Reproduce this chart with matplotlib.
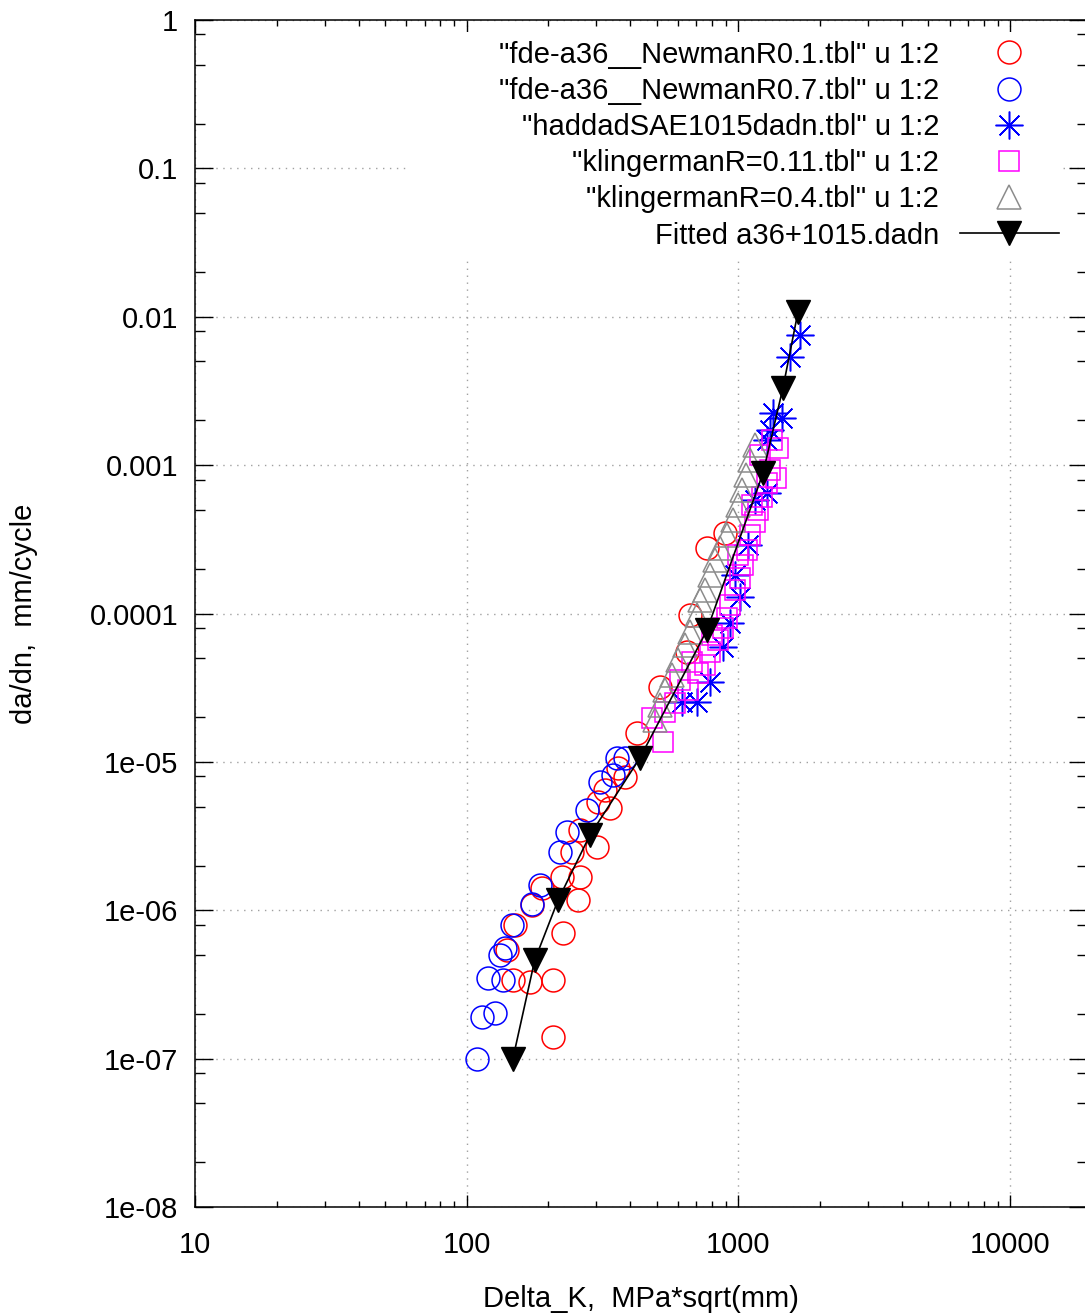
import matplotlib
matplotlib.use("Agg")
import matplotlib.pyplot as plt
from matplotlib.patches import Rectangle
from matplotlib.ticker import FixedLocator, FixedFormatter, LogLocator, NullFormatter

plt.rcParams['font.family'] = ['Liberation Sans', 'DejaVu Sans']

# Data (Delta_K in MPa*sqrt(mm), da/dn in mm/cycle)
newman_r01_dk = [208, 148, 171, 208, 141, 151, 226, 174, 257, 189, 224, 261, 244,
                 302, 261, 304, 337, 323, 361, 383, 424, 514, 647, 663, 766, 893]
newman_r01_dadn = [1.39e-7, 3.37e-7, 3.27e-7, 3.37e-7, 5.37e-7, 7.92e-7, 7.0e-7,
                   1.08e-6, 1.17e-6, 1.41e-6, 1.67e-6, 1.67e-6, 2.46e-6, 2.66e-6,
                   3.46e-6, 5.34e-6, 4.87e-6, 6.44e-6, 9.06e-6, 7.88e-6, 1.56e-5,
                   3.19e-5, 5.48e-5, 9.74e-5, 2.76e-4, 3.48e-4]

newman_r07_dk = [109, 114, 127, 120, 136, 133, 138, 147, 174, 186, 220, 234, 277,
                 309, 346, 357, 383]
newman_r07_dadn = [1.0e-7, 1.90e-7, 2.02e-7, 3.48e-7, 3.37e-7, 4.97e-7, 5.54e-7,
                   7.92e-7, 1.11e-6, 1.47e-6, 2.46e-6, 3.36e-6, 4.72e-6, 7.29e-6,
                   8.13e-6, 1.07e-5, 1.06e-5]

haddad_dk = [620, 704, 786, 878, 931, 972, 1014, 1085, 1151, 1274, 1274, 1307,
             1341, 1447, 1548, 1685]
haddad_dadn = [2.52e-5, 2.52e-5, 3.44e-5, 5.93e-5, 8.61e-5, 1.81e-4, 1.29e-4,
               2.89e-4, 5.81e-4, 6.48e-4, 1.47e-3, 1.72e-3, 2.24e-3, 2.07e-3,
               5.35e-3, 7.5e-3]

kling_r011_dk = [528, 481, 537, 584, 652, 710, 754, 786, 841, 878, 908, 931, 972,
                 1014, 1040, 1076, 1103, 1151, 1181, 1222, 1274, 1375, 1399, 1330,
                 1201, 610, 675, 800, 997, 1122, 1307]
kling_r011_dadn = [1.36e-5, 1.97e-5, 2.16e-5, 2.48e-5, 3.04e-5, 3.96e-5, 4.48e-5,
                   5.48e-5, 6.61e-5, 7.96e-5, 9.30e-5, 1.14e-4, 1.44e-4, 1.73e-4,
                   2.12e-4, 2.67e-4, 3.37e-4, 4.13e-4, 4.97e-4, 6.08e-4, 7.56e-4,
                   8.17e-4, 1.30e-3, 1.47e-3, 1.17e-3, 3.55e-5, 4.70e-5, 7.14e-5,
                   2.47e-4, 5.37e-4, 9.25e-4]

kling_r04_dk = [493, 514, 537, 570, 600, 636, 663, 704, 722, 754, 786, 820, 856,
                908, 955, 997, 1031, 1067, 1103, 1151]
kling_r04_dadn = [1.91e-5, 2.41e-5, 3.04e-5, 3.84e-5, 4.84e-5, 6.11e-5, 7.48e-5,
                  9.74e-5, 1.23e-4, 1.44e-4, 1.81e-4, 2.29e-4, 2.76e-4, 3.37e-4,
                  4.26e-4, 5.37e-4, 6.78e-4, 8.56e-4, 1.08e-3, 1.36e-3]

fitted_dk = [148, 178, 217, 284, 434, 766, 1232, 1459, 1657]
fitted_dadn = [1.0e-7, 4.6e-7, 1.17e-6, 3.2e-6, 1.06e-5, 7.7e-5, 8.8e-4, 3.3e-3, 1.07e-2]

labels = ['"fde-a36__NewmanR0.1.tbl" u 1:2',
          '"fde-a36__NewmanR0.7.tbl" u 1:2',
          '"haddadSAE1015dadn.tbl" u 1:2',
          '"klingermanR=0.11.tbl" u 1:2',
          '"klingermanR=0.4.tbl" u 1:2',
          'Fitted a36+1015.dadn']

x_ticks = [10, 100, 1000, 10000]
x_ticklabels = ['10', '100', '1000', '10000']
y_ticks = [1e-8, 1e-7, 1e-6, 1e-5, 1e-4, 1e-3, 1e-2, 1e-1, 1]
y_ticklabels = ['1e-08', '1e-07', '1e-06', '1e-05', '0.0001', '0.001', '0.01', '0.1', '1']

fig = plt.figure(figsize=(10.85, 13.16), dpi=100)
ax = fig.add_axes([0.1797, 0.0828, 0.8221, 0.902])
ax.set_axisbelow(True)

ax.plot(newman_r01_dk, newman_r01_dadn, 'o', ms=16.5, mfc='none', mec='#ff0000',
        mew=1.1, label=labels[0])
ax.plot(newman_r07_dk, newman_r07_dadn, 'o', ms=16.5, mfc='none', mec='#0000ff',
        mew=1.1, label=labels[1])
ax.plot(haddad_dk, haddad_dadn, ls='none', marker=(8, 2, 0), ms=20, mec='#0000ff',
        mew=1.1, label=labels[2])
ax.plot(kling_r011_dk, kling_r011_dadn, 's', ms=15, mfc='none', mec='#ff00ff',
        mew=1.1, label=labels[3])
ax.plot(kling_r04_dk, kling_r04_dadn, '^', ms=17, mfc='none', mec='#8c8c8c',
        mew=1.1, label=labels[4])
ax.plot(fitted_dk, fitted_dadn, '-v', color='black', lw=1.2, ms=17,
        label=labels[5])

ax.set_xscale('log')
ax.set_yscale('log')
ax.set_xlim(10, 19200)
ax.set_ylim(1e-8, 1)

ax.xaxis.set_major_locator(FixedLocator(x_ticks))
ax.xaxis.set_major_formatter(FixedFormatter(x_ticklabels))
ax.xaxis.set_minor_locator(LogLocator(base=10, subs=range(2, 10), numticks=20))
ax.xaxis.set_minor_formatter(NullFormatter())
ax.yaxis.set_major_locator(FixedLocator(y_ticks))
ax.yaxis.set_major_formatter(FixedFormatter(y_ticklabels))
ax.yaxis.set_minor_locator(LogLocator(base=10, subs=(2, 5, 8), numticks=20))
ax.yaxis.set_minor_formatter(NullFormatter())

ax.tick_params(which='both', direction='in', top=True, right=True, width=1,
               labelsize=21, colors='black')
ax.tick_params(axis='x', which='major', length=9, pad=17)
ax.tick_params(axis='x', which='minor', length=4.5)
ax.tick_params(axis='y', which='major', length=13, pad=12)
ax.tick_params(axis='y', which='minor', length=7)
for s in ax.spines.values():
    s.set_linewidth(1.1)
    s.set_zorder(3)

ax.grid(True, which='major', color='#a0a0a0', lw=1, ls=(0, (1, 4)))

ax.set_xlabel('Delta_K,  MPa*sqrt(mm)', fontsize=21, labelpad=19)
ax.set_ylabel('da/dn,  mm/cycle', fontsize=21, labelpad=37)

# white key box that hides the grid behind the legend
ax.add_patch(Rectangle((0.2366, 0.8003), 0.7365, 0.1896, transform=ax.transAxes,
                       facecolor='white', edgecolor='none', zorder=1))

leg = ax.legend(loc='upper right', bbox_to_anchor=(0.975, 0.9875), markerfirst=False,
                fontsize=21, frameon=False, borderpad=0.2, borderaxespad=0,
                handlelength=3.4, handletextpad=0.7, labelspacing=0.28)

plt.savefig('out.png', dpi=100)
